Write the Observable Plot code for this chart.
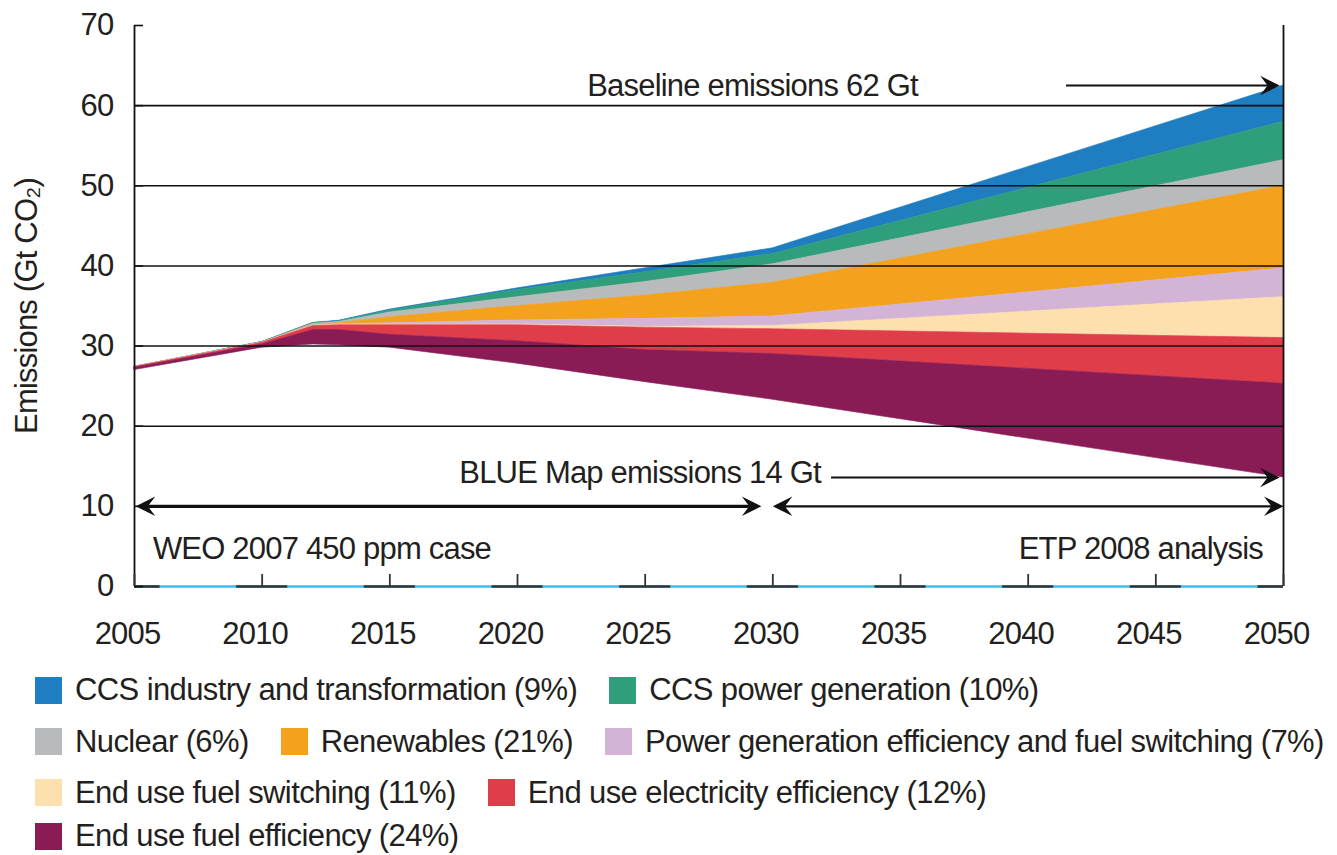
<!DOCTYPE html>
<html><head><meta charset="utf-8">
<script src="https://cdn.jsdelivr.net/npm/d3@7"></script>
<script src="https://cdn.jsdelivr.net/npm/@observablehq/plot@0.6"></script>
<style>
body{margin:0;background:#fff;overflow:hidden;font-family:"Liberation Sans",Arial,sans-serif;color:#231f20}
#chart{position:absolute;left:0;top:0}
#chart svg text{letter-spacing:-0.8px}
#legend{position:absolute;left:0;top:665px;width:1337px;font-size:31px;letter-spacing:-0.6px}
.row{display:flex;align-items:center;height:50px;white-space:nowrap;padding-left:35px}
.row:nth-child(2){height:53px}
.row:nth-child(3){height:49px}
.row:nth-child(4){height:38px}
.item{display:flex;align-items:center;margin-right:32px}
.sw{width:27px;height:27px;margin-right:13px;flex:none}
</style></head><body><div id="chart"></div><div id="legend"></div>
<script>
const FONT = '"Liberation Sans",Arial,sans-serif';

// ---- data ----
const years = [2005, 2010, 2012, 2013, 2015, 2020, 2025, 2030, 2050];
const blueMapEmissions     = [27.0, 29.8, 30.2, 30.1, 29.8, 27.8, 25.5, 23.3, 13.6];
const endUseFuelEfficiency = [0.3, 0.4, 1.8, 1.9, 1.6, 2.8, 4.0, 5.7, 11.7];
const endUseElecEfficiency = [0.1, 0.2, 0.5, 0.6, 1.2, 2.0, 2.8, 3.1, 5.7];
const endUseFuelSwitching  = [0, 0, 0.05, 0.05, 0.05, 0.1, 0.1, 0.4, 5.1];
const powerGenEfficiency   = [0, 0, 0.1, 0.1, 0.2, 0.5, 1.0, 1.2, 3.6];
const renewables           = [0, 0, 0.05, 0.1, 0.75, 1.8, 2.9, 4.2, 10.3];
const nuclear              = [0, 0.05, 0.1, 0.15, 0.6, 1.1, 1.7, 2.3, 3.2];
const ccsPower             = [0, 0.05, 0.05, 0.1, 0.25, 0.9, 1.2, 1.3, 4.8];
const ccsIndustry          = [0, 0, 0.05, 0.05, 0.1, 0.2, 0.5, 0.7, 4.5];

const seriesNames = [
  "CCS industry and transformation (9%)",
  "CCS power generation (10%)",
  "Nuclear (6%)",
  "Renewables (21%)",
  "Power generation efficiency and fuel switching (7%)",
  "End use fuel switching (11%)",
  "End use electricity efficiency (12%)",
  "End use fuel efficiency (24%)"
];
const seriesValues = [ccsIndustry, ccsPower, nuclear, renewables, powerGenEfficiency, endUseFuelSwitching, endUseElecEfficiency, endUseFuelEfficiency];
const seriesColors = ["#1f7dc2", "#2f9e7d", "#b9babc", "#f4a11d", "#d4b4d6", "#fde0ae", "#e03d4b", "#8a1c55"];
const baseName = "BLUE Map emissions";

const xTicks = [2005, 2010, 2015, 2020, 2025, 2030, 2035, 2040, 2045, 2050];
const yTicks = [0, 10, 20, 30, 40, 50, 60, 70];
const gridValues = [20, 30, 40, 50, 60];

const startNotes = [
  {text: "Baseline emissions 62 Gt", x: 2022.73, y: 62.4},
  {text: "BLUE Map emissions 14 Gt", x: 2017.72, y: 14.1},
  {text: "WEO 2007 450 ppm case", x: 2005.72, y: 4.7}
];
const endNotes = [
  {text: "ETP 2008 analysis", x: 2049.2, y: 4.7}
];
const arrowLines = [
  {x1: 2041.5, x2: 2049.5, y: 62.5, w: 2},
  {x1: 2032.3, x2: 2049.5, y: 13.6, w: 2},
  {x1: 2005.3, x2: 2029.2, y: 10, w: 3.4},
  {x1: 2030.3, x2: 2049.8, y: 10, w: 2.2}
];
const arrowHeads = [
  {x: 2049.85, y: 62.5, dir: 0},
  {x: 2049.85, y: 13.6, dir: 0},
  {x: 2005.05, y: 10, dir: 180},
  {x: 2029.55, y: 10, dir: 0},
  {x: 2030.0, y: 10, dir: 180},
  {x: 2050.0, y: 10, dir: 0}
];

// ---- table for the stack ----
const colorOf = {[baseName]: "white"};
seriesNames.forEach((n, i) => colorOf[n] = seriesColors[i]);
const stackOrder = [baseName, ...seriesNames.slice().reverse()];
const rows = [];
years.forEach((yr, j) => {
  rows.push({year: yr, series: baseName, value: blueMapEmissions[j]});
  seriesNames.forEach((n, i) => rows.push({year: yr, series: n, value: seriesValues[i][j]}));
});

const W = 1337, H = 662, mL = 134, mR = 54, mT = 25, mB = H - 586;
const plotW = W - mL - mR, plotH = H - mT - mB;

const arrowSym = {draw(ctx, size) {
  const s = Math.sqrt(size);
  ctx.moveTo(0, 0);
  ctx.lineTo(-s, -0.5 * s);
  ctx.lineTo(-0.62 * s, 0);
  ctx.lineTo(-s, 0.5 * s);
  ctx.closePath();
}};

const chart = Plot.plot({
  width: W, height: H,
  marginLeft: mL, marginRight: mR, marginTop: mT, marginBottom: mB,
  style: {fontFamily: FONT, fontSize: "31px", color: "#231f20", background: "white", overflow: "visible"},
  x: {domain: [2005, 2050]},
  y: {domain: [0, 70]},
  marks: [
    Plot.areaY(rows, Plot.stackY({order: stackOrder}, {
      x: "year", y: "value", z: "series",
      fill: d => colorOf[d.series],
      stroke: d => d.series === baseName ? "none" : colorOf[d.series],
      strokeWidth: 0.6, curve: "linear"
    })),
    Plot.ruleY(gridValues, {stroke: "#111", strokeWidth: 1.6}),
    Plot.ruleX([2005, 2050], {y1: 0, y2: 70, stroke: "#111", strokeWidth: 1.8}),
    Plot.ruleY([0], {stroke: "#3bbcec", strokeWidth: 2.6}),
    Plot.ruleY(xTicks, {y: 0, x1: d => Math.max(2005, d - 1), x2: d => Math.min(2050, d + 1), stroke: "#333", strokeWidth: 2.6}),
    Plot.tickX(xTicks, {x: d => d, insetTop: plotH - 12, stroke: "#333", strokeWidth: 1.8}),
    Plot.tickY(yTicks, {y: d => d, insetRight: plotW - 9, stroke: "#111", strokeWidth: 1.6}),
    Plot.axisX({ticks: xTicks, tickSize: 0, tickPadding: 35, dx: -7, tickFormat: "d", label: null}),
    Plot.axisY({ticks: yTicks, tickSize: 0, tickPadding: 21, label: "Emissions (Gt CO₂)", labelAnchor: "center", labelOffset: 120, labelArrow: "none"}),
    Plot.ruleY(arrowLines, {y: "y", x1: "x1", x2: "x2", strokeWidth: "w", stroke: "#111"}),
    Plot.dot(arrowHeads, {x: "x", y: "y", rotate: "dir", symbol: arrowSym, r: 11, fill: "#111", stroke: "none"}),
    Plot.text(startNotes, {x: "x", y: "y", text: "text", textAnchor: "start", lineAnchor: "middle", fill: "#231f20"}),
    Plot.text(endNotes, {x: "x", y: "y", text: "text", textAnchor: "end", lineAnchor: "middle", fill: "#231f20"})
  ]
});
document.getElementById("chart").appendChild(chart);

// ---- legend ----
const legendRows = [[0, 1], [2, 3, 4], [5, 6], [7]];
const legend = document.getElementById("legend");
legendRows.forEach(r => {
  const row = document.createElement("div");
  row.className = "row";
  r.forEach(i => {
    const it = document.createElement("div");
    it.className = "item";
    const sw = document.createElement("span");
    sw.className = "sw";
    sw.style.background = seriesColors[i];
    const tx = document.createElement("span");
    tx.textContent = seriesNames[i];
    it.appendChild(sw); it.appendChild(tx);
    row.appendChild(it);
  });
  legend.appendChild(row);
});
</script></body></html>
